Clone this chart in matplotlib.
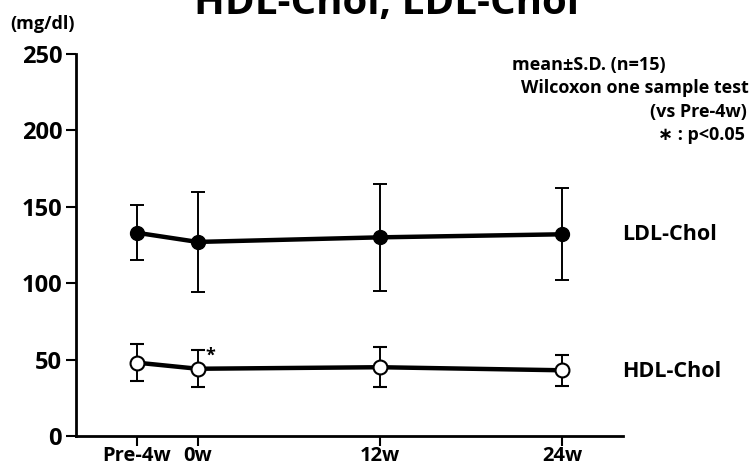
import matplotlib
matplotlib.use("Agg")
import matplotlib.pyplot as plt

plt.rcParams['font.family'] = ['Open Sans', 'DejaVu Sans']

weeks = [-4, 0, 12, 24]
tick_labels = ["Pre-4w", "0w", "12w", "24w"]
ldl_mean = [133, 127, 130, 132]
ldl_sd = [18, 33, 35, 30]
hdl_mean = [48, 44, 45, 43]
hdl_sd = [12, 12, 13, 10]

fig = plt.figure(figsize=(7.51, 4.69), dpi=100)
ax = fig.add_axes([0.1012, 0.0704, 0.7284, 0.8145])

ax.errorbar(weeks, ldl_mean, yerr=ldl_sd, color='black', lw=3.2, marker='o',
            ms=10, mfc='black', mec='black', ecolor='black', elinewidth=1.4,
            capsize=5, capthick=1.4, zorder=3)
ax.errorbar(weeks, hdl_mean, yerr=hdl_sd, color='black', lw=3.2, marker='o',
            ms=10, mfc='white', mec='black', mew=1.5, ecolor='black',
            elinewidth=1.4, capsize=5, capthick=1.4, zorder=3)

ax.set_xlim(-8, 28)
ax.set_ylim(0, 250)
ax.set_xticks(weeks)
ax.set_xticklabels(tick_labels)
ax.set_yticks([0, 50, 100, 150, 200, 250])
for s in ['top', 'right']:
    ax.spines[s].set_visible(False)
for s in ['left', 'bottom']:
    ax.spines[s].set_linewidth(2)
ax.tick_params(axis='both', direction='out', length=7, width=1.5)
ax.tick_params(axis='y', labelsize=17, pad=3)
ax.tick_params(axis='x', labelsize=14.5, pad=0.5)
for lab in ax.get_xticklabels() + ax.get_yticklabels():
    lab.set_fontweight('bold')

# significance marker
ax.annotate('*', xy=(0, hdl_mean[1]), xytext=(6, 3), textcoords='offset points',
            fontsize=13, fontweight='bold', ha='left', va='bottom')

# series labels
lab_x = (622 / 751 - 0.1012) / 0.7284
ax.text(lab_x, 132 / 250, 'LDL-Chol', transform=ax.transAxes, fontsize=15.5,
        fontweight='bold', ha='left', va='center')
ax.text(lab_x, 42 / 250, 'HDL-Chol', transform=ax.transAxes, fontsize=15.5,
        fontweight='bold', ha='left', va='center')

# title and units
fig.text(0.515, 1 - 14 / 469, 'HDL-Chol, LDL-Chol', fontsize=29, fontweight='bold',
         ha='center', va='baseline')
fig.text(10 / 751, 1 - 24 / 469, '(mg/dl)', fontsize=13, fontweight='bold',
         ha='left', va='center')

# notes
note_fs = 13
fig.text(512 / 751, 1 - 65 / 469, 'mean\u00b1S.D. (n=15)', fontsize=note_fs,
         fontweight='bold', ha='left', va='center')
fig.text(749 / 751, 1 - 88 / 469, 'Wilcoxon one sample test', fontsize=note_fs,
         fontweight='bold', ha='right', va='center')
fig.text(747 / 751, 1 - 112 / 469, '(vs Pre-4w)', fontsize=note_fs,
         fontweight='bold', ha='right', va='center')
fig.text(745 / 751, 1 - 135 / 469, '\u2217 : p<0.05', fontsize=note_fs,
         fontweight='bold', ha='right', va='center')

fig.savefig('out.png', dpi=100)
